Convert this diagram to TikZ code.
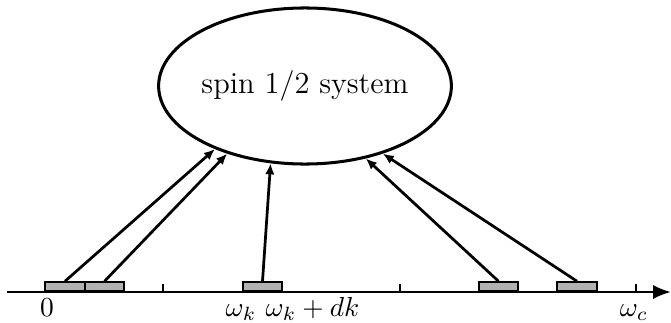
\documentclass[tikz,border=0pt]{standalone}
\usetikzlibrary{shapes.geometric,arrows.meta}
\begin{document}
\begin{tikzpicture}[x=0.364pt,y=-0.364pt,
  band/.style={draw=black,line width=0.8pt,fill=black!30,minimum width=14.4pt,minimum height=3.3pt,inner sep=0pt,anchor=south},
  link/.style={line width=1pt,-{Latex[length=4pt,width=3.4pt]}},
  lab/.style={anchor=base,inner sep=0pt}]
\useasboundingbox (0,0) rectangle (671,322);
\node[ellipse,draw,line width=1.1pt,minimum width=105.6pt,minimum height=56.8pt,inner sep=0pt,font=\fontsize{11.1}{13}\selectfont] (e) at (305,86) {spin 1/2 system};
\coordinate (a0) at (7,292);
\coordinate (a1) at (671,292);
\draw[line width=1pt,-{Latex[length=6.5pt,width=5.2pt]}] (a0) -- (a1);
\foreach \t/\n in {163/t1,400/t2,636/t3}{
  \coordinate (\n) at (\t,292);
  \draw[line width=0.8pt] (\n) -- ++(0,-8);
}
\node[band] (b1) at (65,292.5) {};
\node[band] (b2) at (104.5,292.5) {};
\node[band] (b3) at (262.5,292.5) {};
\node[band] (b4) at (498.5,292.5) {};
\node[band] (b5) at (577,292.5) {};
\draw[link] (b1.north) -- (e.215.7);
\draw[link] (b2.north) -- (e.221.4);
\draw[link] (b3.north) -- (e.246.4);
\draw[link] (b4.north) -- (e.310.8);
\draw[link] (b5.north) -- (e.319.3);
\node[lab] (l0) at (47,316) {$0$};
\node[lab] (lk) at (241,316) {$\omega_k$};
\node[lab] (lkd) at (312.5,316) {$\omega_k+dk$};
\node[lab] (lc) at (634,316) {$\omega_c$};
\end{tikzpicture}
\end{document}
